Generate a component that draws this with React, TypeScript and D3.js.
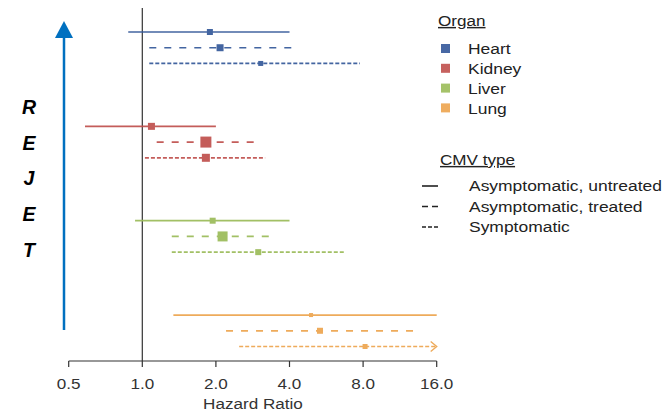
import React from "react";
import * as d3 from "d3";

const organs = ["Heart", "Kidney", "Liver", "Lung"];
const organColors = ["#34589A", "#C0504D", "#9BBB59", "#EDA44E"];
const cmvTypes = ["Asymptomatic, untreated", "Asymptomatic, treated", "Symptomatic"];
const tickValues = [0.5, 1, 2, 4, 8, 16];
const tickLabels = ["0.5", "1.0", "2.0", "4.0", "8.0", "16.0"];

// [organ][cmv type]
const estimates = [
  [1.89, 2.08, 3.05],
  [1.09, 1.82, 1.82],
  [1.94, 2.13, 2.98],
  [4.9, 5.33, 8.15],
];
const lower = [
  [0.876, 1.068, 1.068],
  [0.583, 1.145, 1.025],
  [0.934, 1.32, 1.32],
  [1.34, 2.2, 2.49],
];
const upper = [
  [4.0, 4.08, 7.77],
  [2.0, 2.89, 3.18],
  [4.0, 3.35, 6.69],
  [16, 13.2, 16],
];
const truncated = [
  [false, false, false],
  [false, false, false],
  [false, false, false],
  [false, false, true],
];
const weights = [
  [36, 49, 25],
  [49, 121, 64],
  [36, 100, 36],
  [16, 36, 25],
];
const rejetLetters = ["R", "E", "J", "E", "T"];

const dashes = [null, "7,8", "4,2"];

const SX = 1.18;

function T(props: any) {
  const { x, y, children, ...rest } = props;
  return (
    <g transform={`translate(${x},${y}) scale(${SX},1)`}>
      <text x={0} y={0} {...rest}>{children}</text>
    </g>
  );
}

export default function App() {
  const W = 666, H = 413;
  const x = d3.scaleLog().base(2).domain([0.5, 16]).range([68.7, 436.7]);
  const y = d3.scaleLinear().domain([0, 20]).range([32, 346.5]);
  const size = d3.scaleSqrt().domain([0, 121]).range([0, 11]);
  const axisY = 361;
  const font = "'Liberation Sans', Arial, sans-serif";

  const rows: any[] = [];
  organs.forEach((o, gi) => {
    cmvTypes.forEach((t, ti) => {
      rows.push({ gi, ti, idx: gi * 6 + ti });
    });
  });

  return (
    <svg width={W} height={H} style={{ position: "absolute", left: 0, top: 0, background: "#fff" }} fontFamily={font}>
      {/* REJET arrow */}
      <line x1={64} x2={64} y1={330} y2={36} stroke="#0070C0" strokeWidth={2.5} />
      <path d="M64,21 L55,38 L73,38 Z" fill="#0070C0" />
      {rejetLetters.map((l, i) => (
        <text key={i} x={29} y={107 + i * 35.7} dy="0.35em" textAnchor="middle" fontSize={19.5}
          fontWeight="bold" fontStyle="italic" fill="#000">{l}</text>
      ))}

      {/* reference line */}
      <line x1={x(1)} x2={x(1)} y1={8} y2={axisY} stroke="#333" strokeWidth={1.2} />

      {/* axis */}
      <line x1={x(0.5)} x2={x(16)} y1={axisY} y2={axisY} stroke="#333" strokeWidth={1.2} />
      {tickValues.map((v, i) => (
        <g key={i}>
          <line x1={x(v)} x2={x(v)} y1={axisY} y2={axisY + 6} stroke="#333" strokeWidth={1.2} />
          <T x={x(v)} y={389} textAnchor="middle" fontSize={14.5} fill="#333">{tickLabels[i]}</T>
        </g>
      ))}
      <T x={253} y={409} textAnchor="middle" fontSize={14.5} fill="#333">Hazard Ratio</T>

      {/* forest rows */}
      {rows.map((r) => {
        const yy = y(r.idx);
        const c = organColors[r.gi];
        const lo = lower[r.gi][r.ti], hi = upper[r.gi][r.ti];
        const est = estimates[r.gi][r.ti];
        const s = size(weights[r.gi][r.ti]);
        return (
          <g key={r.idx} opacity={0.92}>
            <line x1={x(lo)} x2={x(hi)} y1={yy} y2={yy} stroke={c} strokeWidth={1.7}
              strokeDasharray={dashes[r.ti] || undefined} />
            {truncated[r.gi][r.ti] && (
              <path d={`M${x(hi) - 6},${yy - 5} L${x(hi)},${yy} L${x(hi) - 6},${yy + 5}`} fill="none" stroke={c} strokeWidth={1.4} />
            )}
            <rect x={x(est) - s / 2} y={yy - s / 2} width={s} height={s} fill={c} />
          </g>
        );
      })}

      {/* legend */}
      <T x={438} y={26} fontSize={14.5} fill="#222" textDecoration="underline">Organ</T>
      {organs.map((o, i) => (
        <g key={o}>
          <rect x={441} y={44 + i * 19.8} width={9} height={9} fill={organColors[i]} opacity={0.9} />
          <T x={468} y={49 + i * 19.8} dy="0.35em" fontSize={14.8} fill="#222">{o}</T>
        </g>
      ))}
      <T x={440} y={165} fontSize={14.5} fill="#222" textDecoration="underline">CMV type</T>
      {cmvTypes.map((t, i) => (
        <g key={t}>
          <line x1={422} x2={438} y1={186 + i * 20.5} y2={186 + i * 20.5} stroke="#222" strokeWidth={1.6}
            strokeDasharray={i === 0 ? undefined : i === 1 ? "6,4" : "4,2"} />
          <T x={469} y={186 + i * 20.5} dy="0.35em" fontSize={14.8} fill="#222">{t}</T>
        </g>
      ))}
    </svg>
  );
}
